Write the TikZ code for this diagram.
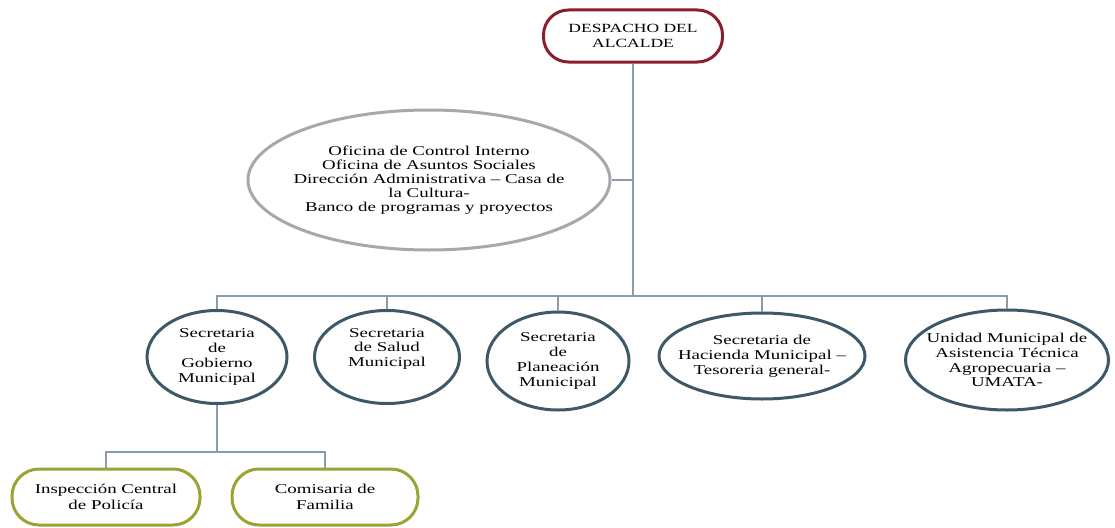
\documentclass[tikz,border=0pt]{standalone}
\usepackage{fontspec}
\setmainfont{Liberation Serif}[FakeStretch=1.4]
\usetikzlibrary{shapes.geometric}

\definecolor{alcred}{RGB}{139,29,45}
\definecolor{ofigray}{RGB}{168,168,168}
\definecolor{secblue}{RGB}{62,88,104}
\definecolor{depolive}{RGB}{155,163,52}
\definecolor{linegray}{RGB}{140,154,176}

\tikzset{
  jefe/.style={draw=alcred, line width=3pt, rounded corners=25pt,
    minimum width=179pt, minimum height=52pt, inner sep=0pt,
    align=center, font=\fontsize{12.5}{15}\selectfont},
  oficina/.style={ellipse, draw=ofigray, line width=3pt,
    inner xsep=-40pt, inner ysep=0pt,
    align=center, font=\fontsize{13.5}{14}\selectfont},
  secre/.style={ellipse, draw=secblue, line width=3pt,
    inner xsep=-30pt, inner ysep=0pt,
    align=center, font=\fontsize{13.5}{14.8}\selectfont},
  depen/.style={draw=depolive, line width=3pt, rounded corners=27pt,
    minimum width=188pt, minimum height=56pt, inner sep=0pt,
    align=center, font=\fontsize{13.5}{16}\selectfont},
  conn/.style={draw=linegray, line width=1.5pt}
}

\begin{document}
\begin{tikzpicture}[x=1pt,y=-1pt]
    \useasboundingbox (0,0) rectangle (1115,527);

    % Despacho
    \node[jefe] (alc) at (633,36) {DESPACHO DEL\\ALCALDE};

    % Oficinas
    \node[oficina, minimum width=362pt, minimum height=140pt] (ofi) at (429,180)
        {Oficina de Control Interno\\Oficina de Asuntos Sociales\\Dirección Administrativa – Casa de\\la Cultura-\\Banco de programas y proyectos};

    % Secretarias
    \node[secre, minimum width=140pt, minimum height=93pt] (gob) at (217,357) {Secretaria\\de\\Gobierno\\Municipal};
    \node[secre, minimum width=145pt, minimum height=93pt] (sal) at (387,357) {Secretaria\\de Salud\\Municipal\\\strut};
    \node[secre, minimum width=142pt, minimum height=98pt] (pla) at (558,361) {Secretaria\\de\\Planeación\\Municipal};
    \node[secre, minimum width=206pt, minimum height=86pt] (hac) at (762,356) {Secretaria de\\Hacienda Municipal –\\Tesoreria general-};
    \node[secre, minimum width=203pt, minimum height=100pt] (uma) at (1007,360) {Unidad Municipal de\\Asistencia Técnica\\Agropecuaria –\\UMATA-};

    % Dependencias
    \node[depen] (ins) at (106,497) {Inspección Central\\de Policía};
    \node[depen, minimum width=186pt] (com) at (325,497) {Comisaria de\\Familia};

    % Draw connectors
    \coordinate (bus) at (633,296);
    \coordinate (bus2) at (217,452);
    \draw[conn] (alc.south) -- (bus);
    \draw[conn] (ofi.east) -- (ofi.east -| bus);
    \draw[conn] (gob.north) -- (gob.north |- bus) -- (uma.north |- bus) -- (uma.north);
    \foreach \n in {sal,pla,hac}
        \draw[conn] (\n.north) -- (\n.north |- bus);
    \draw[conn] (gob.south) -- (bus2);
    \draw[conn] (ins.north) -- (ins.north |- bus2) -- (com.north |- bus2) -- (com.north);

\end{tikzpicture}
\end{document}
